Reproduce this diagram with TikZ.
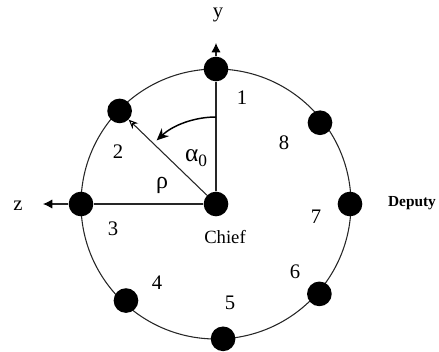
\documentclass[tikz,border=0pt]{standalone}
\usepackage{fontspec}
\setmainfont{Liberation Serif}
\usetikzlibrary{positioning,arrows.meta}
\tikzset{
  sat/.style={circle,fill=black,minimum size=18.5pt,inner sep=0pt},
  num/.style={font=\fontsize{15.5}{15.5}\selectfont,inner sep=0pt},
  txt/.style={font=\fontsize{14}{14}\selectfont,inner sep=0pt},
  ring/.style={draw=black!85,line width=0.8pt},
}
\begin{document}
\begin{tikzpicture}[x=0.75pt,y=0.75pt,>={Latex[length=7pt,width=7pt,black]}]
  \useasboundingbox (-216,-147) rectangle (223,204);
  % formation ring and satellites
  \draw[ring] (0,0) circle[radius=135];
  \node[sat] (chief) at (0,0) {};
  \node[sat] (d1) at (90:135) {};
  \node[sat] (d2) at (136:134) {};
  \node[sat] (d3) at (180:135) {};
  \node[sat] (d4) at (227:132) {};
  \node[sat] (d5) at (273:135) {};
  \node[sat] (d6) at (319:137) {};
  \node[sat] (d7) at (0:134) {};
  \node[sat] (d8) at (38:132) {};

  % axes
  \coordinate (ytip) at (0,161);
  \coordinate (ztip) at (-173,0);
  \draw[ring] (chief)--(d1);
  \draw[ring,->] (d1)--(ytip);
  \draw[ring] (chief)--(d3);
  \draw[ring,->] (d3)--(ztip);
  \draw[ring,-{Stealth[open,length=7pt,width=6pt,black]}] (chief)--(d2);
  \coordinate (arcA) at (90:87);
  \draw[ring,draw=black,line width=1.1pt,-{Stealth[length=9pt,width=8pt,black]}] (arcA) arc[start angle=90,end angle=133,radius=87];

  % labels
  \node[num] (ly) at (2,189) {y};
  \node[num] (lz) at (-198,-2) {z};
  \node[num] (l1) at (26,106) {1};
  \node[num] (l2) at (-98,52) {2};
  \node[num] (l3) at (-103,-25) {3};
  \node[num] (l4) at (-59,-79) {4};
  \node[num] (l5) at (14,-99) {5};
  \node[num] (l6) at (79,-68) {6};
  \node[num] (l7) at (100,-13) {7};
  \node[num] (l8) at (68,61) {8};
  \node[num,font=\fontsize{19}{19}\selectfont] (lalpha) at (-20,46) {α\raisebox{-0.4ex}{\fontsize{13}{13}\selectfont 0}};
  \node[num,font=\fontsize{18}{18}\selectfont] (lrho) at (-54,19) {ρ};
  \node[txt] (lchief) at (9,-33) {Chief};
  \node[font=\fontsize{11.5}{11.5}\selectfont\bfseries,inner sep=0pt] (ldep) at (196,1) {Deputy};
\end{tikzpicture}
\end{document}
